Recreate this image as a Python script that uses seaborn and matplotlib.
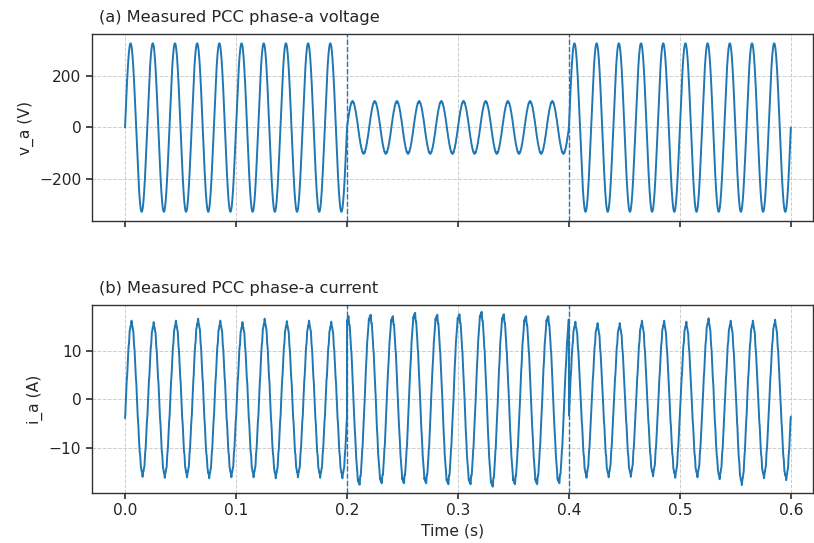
import numpy as np
import pandas as pd
import matplotlib
matplotlib.use("Agg")
import matplotlib.pyplot as plt
import seaborn as sns

# ---------------- data ----------------
f_grid = 50.0                      # Hz (10 cycles per 0.2 s)
seg_edges = [0.0, 0.2, 0.4, 0.6]   # s
event_times = [0.2, 0.4]           # dashed markers

# voltage: peak / trough per segment and time of first positive peak
v_peak = [325.0, 100.0, 325.0]
v_trough = [-326.0, -100.0, -326.0]
v_peak_time = [0.005, 0.205, 0.405]
v_ripple = [0.0, 2.0, 0.0]

# current: time of first positive peak per segment (phase steps at 0.2 / 0.4)
i_peak_time = [0.0058, 0.2009, 0.4057]
# positive peaks per cycle
i_peaks = [
    [15.6, 15.3, 15.6, 16.0, 15.6, 15.3, 16.0, 15.5, 15.6, 15.4],
    [16.8, 17.1, 16.8, 17.5, 17.1, 17.2, 17.7, 17.2, 16.8, 16.8, 16.9],
    [15.4, 15.1, 15.1, 15.6, 15.6, 15.4, 16.1, 15.6, 15.6, 15.8],
]
# troughs: the one before the first peak, then one after every peak
i_troughs = [
    [-15.4, -15.3, -15.5, -15.4, -15.6, -15.4, -15.4, -15.6, -15.4, -15.5, -15.6],
    [-17.2, -17.2, -16.9, -16.9, -16.9, -17.1, -17.1, -17.6, -17.1, -17.1, -16.9],
    [-15.5, -15.5, -15.4, -15.3, -15.2, -15.5, -15.4, -15.8, -17.0, -15.6, -16.0],
]
i_ripple_orders = [13, 23]
i_ripple_amps = [0.30, 0.25]

title_a = "(a) Measured PCC phase-a voltage"
title_b = "(b) Measured PCC phase-a current"
ylabel_a = "v_a (V)"
ylabel_b = "i_a (A)"
xlabel = "Time (s)"
x_ticks = [0.0, 0.1, 0.2, 0.3, 0.4, 0.5, 0.6]
v_ticks = [-200, 0, 200]
i_ticks = [-10, 0, 10]

# ---------------- build waveforms from the values ----------------
fs = 20000
t = np.linspace(0.0, 0.6, int(0.6 * fs) + 1)
w = 2 * np.pi * f_grid
half = 0.5 / f_grid

def waveform(tt, tp, peaks, troughs):
    n = np.round((tt - tp) / half).astype(int)
    amp = np.empty_like(tt)
    even = (n % 2 == 0)
    pk_idx = np.clip(n // 2, 0, len(peaks) - 1)
    tr_idx = np.clip((n + 1) // 2, 0, len(troughs) - 1)
    amp[even] = np.asarray(peaks)[pk_idx[even]]
    amp[~even] = np.abs(np.asarray(troughs))[tr_idx[~even]]
    return amp * np.cos(w * (tt - tp))

v = np.zeros_like(t)
i = np.zeros_like(t)
for s in range(3):
    lo, hi = seg_edges[s], seg_edges[s + 1]
    m = (t >= lo) & (t < hi) if s < 2 else (t >= lo) & (t <= hi)
    tt = t[m]
    v[m] = waveform(tt, v_peak_time[s], [v_peak[s]] * 12, [v_trough[s]] * 12) \
        + v_ripple[s] * np.sin(2 * np.pi * 23 * f_grid * tt)
    ii = waveform(tt, i_peak_time[s], i_peaks[s], i_troughs[s])
    for k, a in zip(i_ripple_orders, i_ripple_amps):
        ii = ii + a * np.sin(2 * np.pi * k * f_grid * tt + 0.7 * k)
    i[m] = ii

df = pd.DataFrame({"t": t, "v": v, "i": i})

# ---------------- plotting ----------------
sns.set_theme(style="ticks")
plt.rcParams.update({
    "font.family": ["DejaVu Sans"],
    "axes.edgecolor": "#333333",
    "axes.linewidth": 1.0,
    "xtick.color": "#333333",
    "ytick.color": "#333333",
    "xtick.labelcolor": "#262626",
    "ytick.labelcolor": "#262626",
    "axes.labelcolor": "#262626",
})

blue = "#1f77b4"
fs_lab = 11.2
fig, (ax1, ax2) = plt.subplots(2, 1, figsize=(8.14, 5.43), dpi=100, sharex=True)
fig.subplots_adjust(left=0.1127, right=0.9988, top=0.9378, bottom=0.0926, hspace=0.448)

for ax, col, title, ylab, yt in [(ax1, "v", title_a, ylabel_a, v_ticks),
                                 (ax2, "i", title_b, ylabel_b, i_ticks)]:
    sns.lineplot(data=df, x="t", y=col, ax=ax, color=blue, linewidth=1.4,
                 estimator=None, sort=False)
    for et in event_times:
        ax.axvline(et, color=blue, linestyle="--", linewidth=1.0)
    ax.grid(True, linestyle="--", linewidth=0.7, color="#cccccc")
    ax.set_axisbelow(True)
    ax.set_yticks(yt)
    ax.set_ylabel(ylab, fontsize=fs_lab)
    ax.set_xlabel("")
    ttl = ax.set_title(title, loc="left", fontsize=11.7, pad=8.6, color="#262626")
    ttl.set_x(0.0097)
    ax.tick_params(labelsize=fs_lab, length=4)
    for sp in ax.spines.values():
        sp.set_visible(True)

ax1.set_ylim(-362.5, 362)
ax2.set_ylim(-19.1, 19.3)
ax2.set_xlim(-0.03, 0.62)
ax2.set_xticks(x_ticks)
ax2.set_xlabel(xlabel, fontsize=fs_lab)
ax1.tick_params(labelbottom=False)

fig.savefig("out.png", dpi=100)
